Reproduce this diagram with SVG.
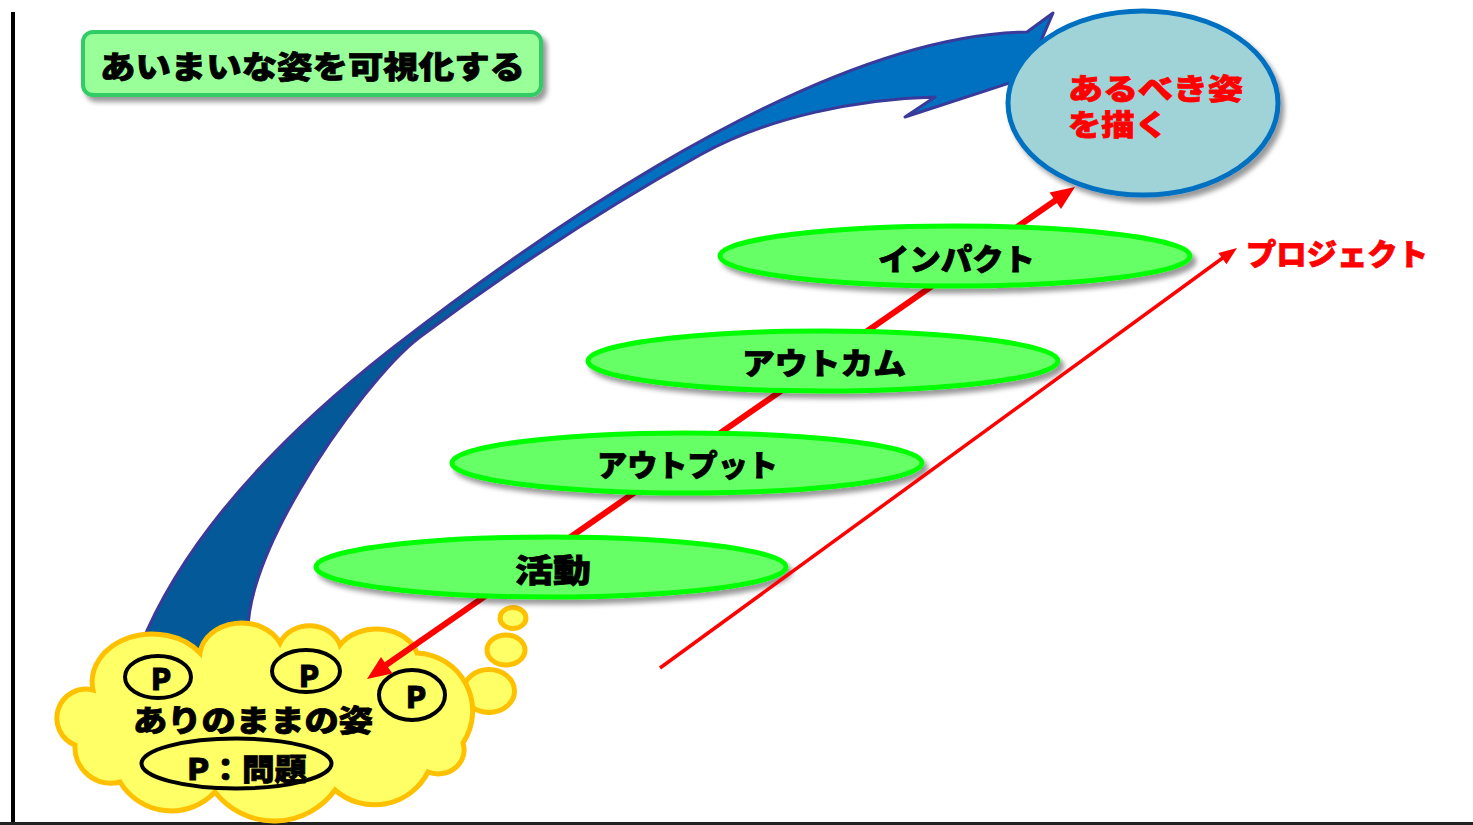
<svg xmlns="http://www.w3.org/2000/svg" width="1473" height="825" viewBox="0 0 1473 825">
  <defs>
    <filter id="shadow" x="-10%" y="-30%" width="125%" height="170%">
      <feDropShadow dx="4" dy="5" stdDeviation="2.5" flood-color="#000" flood-opacity="0.4"/>
    </filter>
    <linearGradient id="blueBody" gradientUnits="userSpaceOnUse" x1="430" y1="330" x2="570" y2="235">
      <stop offset="0" stop-color="#045a98"/>
      <stop offset="1" stop-color="#0070c0"/>
    </linearGradient>
    <style>
      .jp { font-family: "Noto Sans CJK JP", "Noto Sans", sans-serif; font-weight: 900; }
      .blk { fill: #000; stroke: #000; stroke-width: 0.8; }
      .red { fill: #ff0000; stroke: #ff0000; stroke-width: 0.8; }
      .stage { fill: #66ff66; stroke: #00ff00; stroke-width: 5; filter: url(#shadow); }
      .ring { fill: none; stroke: #000; stroke-width: 4; }
      .bubble { fill: #ffff66; stroke: #ffc000; stroke-width: 5; }
    </style>
  </defs>

  <rect x="0" y="0" width="1473" height="825" fill="#fff"/>

  <!-- frame lines -->
  <g id="frame">
    <rect x="11" y="12" width="4" height="813" fill="#000"/>
    <rect x="0" y="822" width="1473" height="3" fill="#222"/>
  </g>

  <!-- curved blue arrow from the present state to the goal -->
  <g id="vision-arrow">
    <path d="M135,668 L140,647 C175,560 250,460 390,350 C480,280 800,35 1027,32 L1053,13 L1025,78 L905,117 L935,97 C860,99 770,116 700,155 C610,205 510,270 420,337 C360,382 215,590 255,660 Z"
          fill="url(#blueBody)" stroke="#393a9a" stroke-width="3" stroke-linejoin="round"/>
  </g>

  <!-- present state cloud -->
  <g id="current-state">
    <ellipse class="bubble" cx="513" cy="618" rx="13" ry="10.5"/>
    <ellipse class="bubble" cx="506" cy="650" rx="19" ry="15"/>
    <ellipse class="bubble" cx="489" cy="691" rx="25.5" ry="21.5"/>
    <path class="bubble" d="M75,745 A29,29 0 0 1 93,690 A60,48 0 0 1 200,653 A42,34 0 0 1 280,643 A32,28 0 0 1 340,645 A42,32 0 0 1 417,653 A58,58 0 0 1 463,743 A26,24 0 0 1 428,772 A60,60 0 0 1 335,790 A75,75 0 0 1 215,792 A60,60 0 0 1 120,782 A36,36 0 0 1 75,745 Z"/>
    <ellipse class="ring" cx="158" cy="677" rx="33" ry="21"/>
    <ellipse class="ring" cx="306" cy="671" rx="34" ry="21"/>
    <ellipse class="ring" cx="412" cy="695" rx="33" ry="25"/>
    <text class="jp blk" x="161" y="690" font-size="30" text-anchor="middle">P</text>
    <text class="jp blk" x="309" y="687" font-size="30" text-anchor="middle">P</text>
    <text class="jp blk" x="416" y="708" font-size="30" text-anchor="middle">P</text>
    <text class="jp blk" x="133" y="731" font-size="30" textLength="240" lengthAdjust="spacingAndGlyphs">ありのままの姿</text>
    <ellipse class="ring" cx="236.5" cy="763.5" rx="95" ry="25"/>
    <text class="jp blk" x="187" y="780" font-size="30" textLength="120" lengthAdjust="spacingAndGlyphs">P：問題</text>
  </g>

  <!-- connectors: double-headed link between present and goal -->
  <g id="connectors">
    <line x1="386" y1="665" x2="1056" y2="200" stroke="#ff0000" stroke-width="6"/>
    <polygon points="1075,187 1061,209 1049.6,192.5" fill="#ff0000"/>
    <polygon points="367,679 392.4,673.5 381,657.1" fill="#ff0000"/>
  </g>

  <!-- stages -->
  <g id="stage-impact">
    <ellipse class="stage" cx="955" cy="256" rx="235" ry="30"/>
    <text class="jp blk" x="878" y="270" font-size="30" textLength="157" lengthAdjust="spacingAndGlyphs">インパクト</text>
  </g>
  <g id="stage-outcome">
    <ellipse class="stage" cx="823" cy="361" rx="235" ry="30"/>
    <text class="jp blk" x="742" y="374" font-size="30" textLength="164" lengthAdjust="spacingAndGlyphs">アウトカム</text>
  </g>
  <g id="stage-output">
    <ellipse class="stage" cx="687" cy="463" rx="235" ry="30"/>
    <text class="jp blk" x="597" y="476" font-size="30" textLength="181" lengthAdjust="spacingAndGlyphs">アウトプット</text>
  </g>
  <g id="stage-activity">
    <ellipse class="stage" cx="551" cy="567" rx="235" ry="30"/>
    <text class="jp blk" x="515" y="582" font-size="32" textLength="76" lengthAdjust="spacingAndGlyphs">活動</text>
  </g>

  <!-- project arrow -->
  <g id="project">
    <line x1="660" y1="668" x2="1224" y2="257" stroke="#ff0000" stroke-width="3.5"/>
    <polygon points="1237,248 1226.5,264.3 1218.3,252.9" fill="#ff0000"/>
    <text class="jp red" x="1246" y="265" font-size="30" textLength="182" lengthAdjust="spacingAndGlyphs">プロジェクト</text>
  </g>

  <!-- goal -->
  <g id="goal">
    <ellipse cx="1143" cy="103" rx="135" ry="92" fill="#9fd3d8" stroke="#0070c0" stroke-width="5" filter="url(#shadow)"/>
    <text class="jp red" font-size="29">
      <tspan x="1068" y="100" textLength="175" lengthAdjust="spacingAndGlyphs">あるべき姿</tspan>
      <tspan x="1068" y="136" textLength="100" lengthAdjust="spacingAndGlyphs">を描く</tspan>
    </text>
  </g>

  <!-- title -->
  <g id="title">
    <rect x="83" y="32" width="458" height="63" rx="10" fill="#99ff99" stroke="#33cc66" stroke-width="4" filter="url(#shadow)"/>
    <text class="jp blk" x="100" y="78" font-size="31" textLength="425" lengthAdjust="spacingAndGlyphs">あいまいな姿を可視化する</text>
  </g>
</svg>
